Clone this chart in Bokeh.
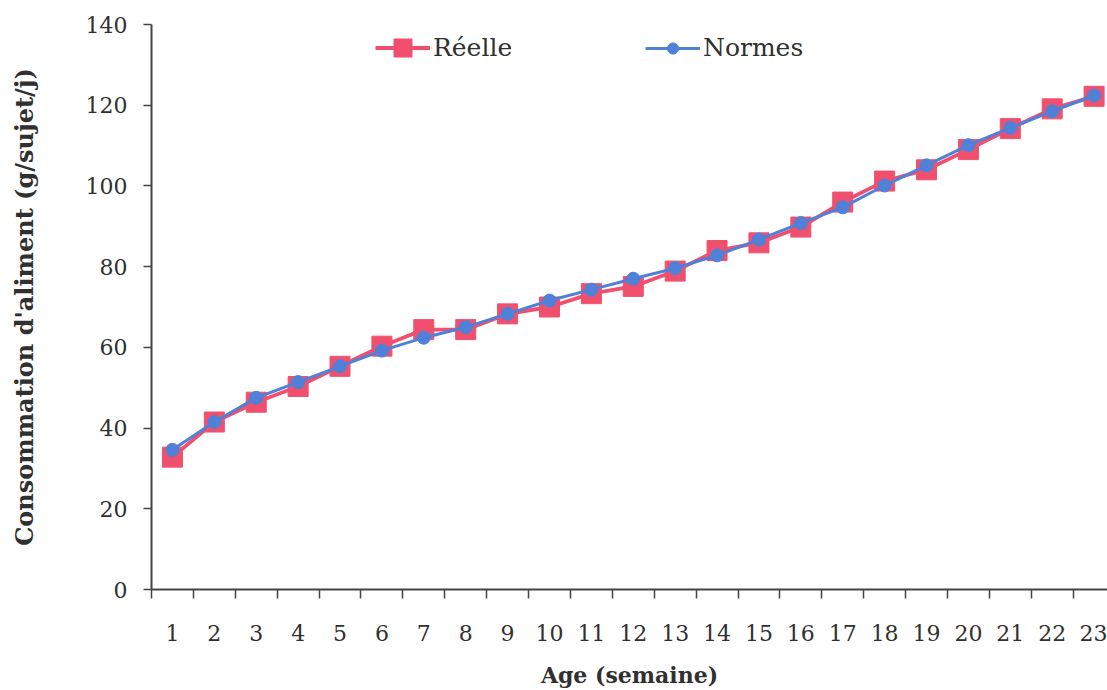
from bokeh.plotting import figure
from bokeh.models import ColumnDataSource, FixedTicker, Legend, LegendItem
from bokeh.embed import file_html
from bokeh.resources import INLINE

weeks = list(range(1, 24))
week_labels = [str(w) for w in weeks]
reelle = [32.8, 41.5, 46.4, 50.3, 55.3, 60.3, 64.4, 64.4, 68.3, 70.0, 73.3, 75.1,
          78.9, 84.0, 85.9, 89.8, 96.0, 101.2, 104.0, 109.0, 114.2, 119.1, 122.2]
normes = [34.6, 41.5, 47.5, 51.4, 55.3, 59.2, 62.4, 65.0, 68.3, 71.6, 74.3, 77.0,
          79.6, 82.8, 86.7, 90.8, 94.7, 100.1, 105.1, 110.1, 114.4, 118.5, 122.4]
y_ticks = [0, 20, 40, 60, 80, 100, 120, 140]

RED = "#f0506e"
BLUE = "#4f81d8"
TXT = "#303030"
FONT = "DejaVu Serif"

src = ColumnDataSource(dict(x=weeks, r=reelle, n=normes))

p = figure(width=1107, height=690, output_backend="svg", toolbar_location=None,
           x_range=(0.5, 23.32), y_range=(0, 140),
           min_border_left=151, min_border_right=0, min_border_top=24,
           min_border_bottom=101, outline_line_color=None)
p.xgrid.visible = False
p.ygrid.visible = False

lr = p.line("x", "r", source=src, color=RED, line_width=3.8)
sr = p.scatter("x", "r", source=src, marker="square", size=20, color=RED)
lb = p.line("x", "n", source=src, color=BLUE, line_width=3)
sb = p.scatter("x", "n", source=src, marker="circle", size=13, color=BLUE)

# x axis
xa = p.xaxis[0]
xa.ticker = FixedTicker(ticks=weeks, minor_ticks=[w - 0.5 for w in weeks] + [23.5])
xa.major_label_overrides = {w: l for w, l in zip(weeks, week_labels)}
xa.major_tick_out = 0
xa.major_tick_in = 0
xa.minor_tick_out = 9
xa.minor_tick_in = 0
xa.minor_tick_line_color = "#444444"
xa.minor_tick_line_width = 1.5
xa.axis_line_color = "#444444"
xa.axis_line_width = 2
xa.major_label_standoff = 26
xa.major_label_text_font = FONT
xa.major_label_text_font_size = "22px"
xa.major_label_text_color = TXT
xa.axis_label = "Age (semaine)"
xa.axis_label_text_font = FONT
xa.axis_label_text_font_style = "bold"
xa.axis_label_text_font_size = "22px"
xa.axis_label_text_color = TXT
xa.axis_label_standoff = 18

# y axis
ya = p.yaxis[0]
ya.ticker = FixedTicker(ticks=y_ticks)
ya.minor_tick_line_color = None
ya.major_tick_out = 8
ya.major_tick_in = 0
ya.major_tick_line_color = "#444444"
ya.major_tick_line_width = 1.5
ya.axis_line_color = "#444444"
ya.axis_line_width = 2
ya.major_label_standoff = 16
ya.major_label_text_font = FONT
ya.major_label_text_font_size = "22px"
ya.major_label_text_color = TXT
ya.axis_label = "Consommation d'aliment (g/sujet/j)"
ya.axis_label_text_font = FONT
ya.axis_label_text_font_style = "bold"
ya.axis_label_text_font_size = "24px"
ya.axis_label_text_color = TXT
ya.axis_label_standoff = 44

common = dict(orientation="horizontal", padding=0, margin=0, glyph_width=55,
              label_standoff=3, label_text_font=FONT, label_text_font_size="25px",
              label_text_color=TXT, border_line_color=None, background_fill_alpha=0)
leg1 = Legend(items=[LegendItem(label="Réelle", renderers=[lr, sr])],
              location=(224, 519), glyph_height=45, **common)
leg2 = Legend(items=[LegendItem(label="Normes", renderers=[lb, sb])],
              location=(494, 527), glyph_height=28, **common)
p.add_layout(leg1, "center")
p.add_layout(leg2, "center")

open("out.html", "w").write(file_html(p, INLINE))
